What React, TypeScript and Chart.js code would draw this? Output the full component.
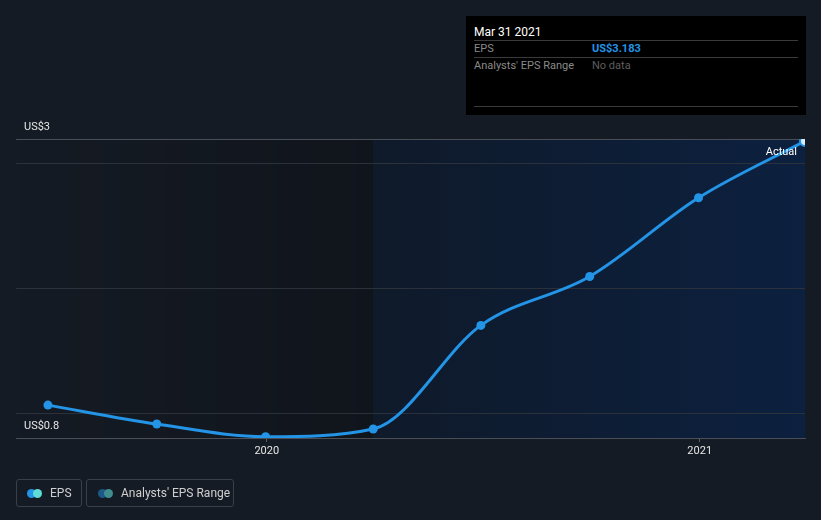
import React, { useEffect, useRef } from 'react';
import { Chart, registerables } from 'chart.js';

Chart.register(...registerables);

// ---- data ----
const periodDates = ['2019-06-30', '2019-09-30', '2019-12-31', '2020-03-31', '2020-06-30', '2020-09-30', '2020-12-31', '2021-03-31'];
const epsValues = [1.064, 0.912, 0.81, 0.872, 1.704, 2.096, 2.728, 3.183];
const xTickDates = ['2020-01-01', '2021-01-01'];
const xTickLabels = ['2020', '2021'];
const yTickValues = [0.8, 1, 2, 3, 3.2];
const yTickLabels = ['US$0.8', '', '', '', 'US$3'];
const xRange = ['2019-06-03', '2021-03-31'];
const yRange = [0.8, 3.2];
const highlightStart = '2020-03-31';
const actualLabel = 'Actual';
const tooltipTitle = 'Mar 31 2021';
const tooltipEps = 'US$3.183';
const tooltipRange = 'No data';
const legendLabels = ['EPS', "Analysts' EPS Range"];

const FONT = 'Roboto, "Noto Sans", sans-serif';
const LINE = '#2394e6';

const toDay = (s: string) => Date.parse(s + 'T00:00:00Z') / 864e5;

const bgPlugin = {
  id: 'bgShading',
  beforeDraw(chart: any) {
    const { ctx, chartArea, scales } = chart;
    const { left, right, top, bottom } = chartArea;
    const xh = scales.x.getPixelForValue(toDay(highlightStart));
    ctx.save();
    const g1 = ctx.createLinearGradient(left, 0, xh, 0);
    g1.addColorStop(0, 'rgba(0,0,0,0)');
    g1.addColorStop(1, 'rgba(0,0,0,0.2)');
    ctx.fillStyle = g1;
    ctx.fillRect(left, top, xh - left, bottom - top);
    const g2 = ctx.createLinearGradient(xh, 0, right, 0);
    g2.addColorStop(0, '#0f1a2a');
    g2.addColorStop(1, '#0c203f');
    ctx.fillStyle = g2;
    ctx.fillRect(xh, top, right - xh, bottom - top);
    ctx.restore();
  },
  afterDatasetsDraw(chart: any) {
    const { ctx, chartArea, scales } = chart;
    ctx.save();
    ctx.font = `11px ${FONT}`;
    ctx.fillStyle = '#e6e6e6';
    ctx.textBaseline = 'middle';
    ctx.textAlign = 'left';
    yTickValues.forEach((v, i) => {
      const t = yTickLabels[i];
      if (!t) return;
      const y = scales.y.getPixelForValue(v);
      ctx.fillText(t, chartArea.left + 8, y - 11.5);
    });
    ctx.textAlign = 'right';
    ctx.fillStyle = '#ffffff';
    ctx.fillText(actualLabel, chartArea.right - 8, chartArea.top + 13);
    ctx.restore();
  },
};

export default function App() {
  const ref = useRef<HTMLCanvasElement | null>(null);

  useEffect(() => {
    if (!ref.current) return;
    const last = epsValues.length - 1;
    const chart = new Chart(ref.current, {
      type: 'line',
      data: {
        datasets: [
          {
            label: 'EPS',
            data: periodDates.map((d, i) => ({ x: toDay(d), y: epsValues[i] })),
            borderColor: LINE,
            borderWidth: 3,
            cubicInterpolationMode: 'monotone',
            pointRadius: (c: any) => (c.dataIndex === last ? 5 : 4.5),
            pointBackgroundColor: (c: any) => (c.dataIndex === last ? '#d8ecfb' : LINE),
            pointBorderColor: LINE,
            pointBorderWidth: (c: any) => (c.dataIndex === last ? 2 : 0),
            fill: false,
          } as any,
        ],
      },
      options: {
        responsive: false,
        devicePixelRatio: 1,
        animation: false,
        events: [],
        layout: { padding: { left: 16, right: 16, top: 139, bottom: 62 } },
        plugins: { legend: { display: false }, tooltip: { enabled: false } },
        scales: {
          x: {
            type: 'linear',
            min: toDay(xRange[0]),
            max: toDay(xRange[1]),
            afterBuildTicks: (axis: any) => {
              axis.ticks = xTickDates.map((d) => ({ value: toDay(d) }));
            },
            afterFit: (scale: any) => {
              scale.height = 20;
            },
            ticks: {
              autoSkip: false,
              maxRotation: 0,
              padding: 3,
              color: '#e6e6e6',
              font: { family: FONT, size: 11 },
              callback: (_v: any, i: number) => xTickLabels[i],
            },
            grid: {
              display: true,
              drawOnChartArea: false,
              drawTicks: true,
              tickLength: 4,
              color: '#5a5f66',
            },
            border: { display: true, color: '#4a4f57', width: 1 },
          },
          y: {
            type: 'linear',
            min: yRange[0],
            max: yRange[1],
            afterBuildTicks: (axis: any) => {
              axis.ticks = yTickValues.map((v) => ({ value: v }));
            },
            afterFit: (scale: any) => {
              scale.width = 0;
            },
            ticks: { display: false },
            grid: {
              drawTicks: false,
              color: (c: any) =>
                c.tick && (c.tick.value === yRange[0] || c.tick.value === yRange[1]) ? '#4a4f57' : '#2b313a',
              lineWidth: 1,
            },
            border: { display: false },
          },
        },
      } as any,
      plugins: [bgPlugin],
    });
    return () => chart.destroy();
  }, []);

  const circle = (bg: string, ml: number) => ({
    display: 'inline-block',
    width: 9,
    height: 9,
    borderRadius: '50%',
    background: bg,
    marginLeft: ml,
  });

  return (
    <div
      style={{
        position: 'absolute',
        left: 0,
        top: 0,
        width: 821,
        height: 520,
        background: '#151b24',
        fontFamily: FONT,
        overflow: 'hidden',
      }}
    >
      <canvas ref={ref} width={821} height={520} style={{ position: 'absolute', left: 0, top: 0 }} />

      {/* tooltip box */}
      <div
        style={{
          position: 'absolute',
          left: 466,
          top: 16,
          width: 340,
          height: 99,
          background: '#000000',
        }}
      >
        <div style={{ position: 'absolute', left: 8, top: 9, fontSize: 12, lineHeight: '14px', color: '#ffffff' }}>
          {tooltipTitle}
        </div>
        <div style={{ position: 'absolute', left: 8, top: 24, width: 324, height: 1, background: '#3a3a3a' }} />
        <div style={{ position: 'absolute', left: 8, top: 25, fontSize: 11, lineHeight: '15px', color: '#8a8a8a' }}>
          {legendLabels[0]}
        </div>
        <div
          style={{ position: 'absolute', left: 126, top: 25, fontSize: 11, lineHeight: '15px', color: LINE, fontWeight: 700 }}
        >
          {tooltipEps}
        </div>
        <div style={{ position: 'absolute', left: 8, top: 41, width: 324, height: 1, background: '#3a3a3a' }} />
        <div style={{ position: 'absolute', left: 8, top: 42, fontSize: 11, lineHeight: '15px', color: '#8a8a8a' }}>
          {legendLabels[1]}
        </div>
        <div style={{ position: 'absolute', left: 126, top: 42, fontSize: 11, lineHeight: '15px', color: '#5e5e5e' }}>
          {tooltipRange}
        </div>
        <div style={{ position: 'absolute', left: 8, top: 90, width: 324, height: 1, background: '#3a3a3a' }} />
      </div>

      {/* legend */}
      <div
        style={{
          position: 'absolute',
          left: 16,
          top: 479,
          width: 64,
          height: 26,
          border: '1px solid #3a3f48',
          borderRadius: 3,
          display: 'flex',
          alignItems: 'center',
          boxSizing: 'content-box',
        }}
      >
        <span style={circle(LINE, 10)} />
        <span style={{ ...circle('#5fdcd6', -3) }} />
        <span style={{ marginLeft: 8, fontSize: 12, color: '#cfcfcf' }}>{legendLabels[0]}</span>
      </div>
      <div
        style={{
          position: 'absolute',
          left: 86,
          top: 479,
          width: 146,
          height: 26,
          border: '1px solid #3a3f48',
          borderRadius: 3,
          display: 'flex',
          alignItems: 'center',
          boxSizing: 'content-box',
        }}
      >
        <span style={circle('#1b5a88', 11)} />
        <span style={{ ...circle('#3f8d8f', -3) }} />
        <span style={{ marginLeft: 8, fontSize: 12, color: '#cfcfcf' }}>{legendLabels[1]}</span>
      </div>
    </div>
  );
}
